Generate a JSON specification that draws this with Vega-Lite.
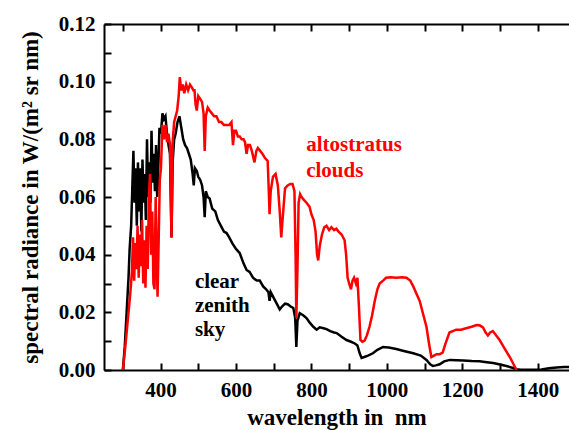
{
  "$schema": "https://vega.github.io/schema/vega-lite/v6.json",
  "width": 465,
  "height": 346,
  "autosize": "none",
  "padding": {"left": 104, "top": 24, "right": 0, "bottom": 60},
  "background": "white",
  "config": {
    "view": {"stroke": null},
    "axis": {
      "grid": false,
      "domainColor": "black",
      "domainWidth": 2,
      "tickColor": "black",
      "tickWidth": 2,
      "labelFont": "Liberation Serif",
      "labelFontWeight": "bold",
      "labelFontSize": 21,
      "labelColor": "black",
      "titleFont": "Liberation Serif",
      "titleFontWeight": "bold",
      "titleFontSize": 23,
      "titleColor": "black"
    }
  },
  "datasets": {
    "spectra": [
      {"s":"clear","w":300,"v":0},{"s":"clear","w":305,"v":0.008},{"s":"clear","w":310,"v":0.02},{"s":"clear","w":315,"v":0.032},{"s":"clear","w":318,"v":0.042},{"s":"clear","w":322,"v":0.05},{"s":"clear","w":325,"v":0.063},{"s":"clear","w":328,"v":0.076},{"s":"clear","w":331,"v":0.058},{"s":"clear","w":334,"v":0.07},{"s":"clear","w":337,"v":0.05},{"s":"clear","w":340,"v":0.072},{"s":"clear","w":343,"v":0.055},{"s":"clear","w":346,"v":0.07},{"s":"clear","w":349,"v":0.048},{"s":"clear","w":352,"v":0.073},{"s":"clear","w":355,"v":0.058},{"s":"clear","w":358,"v":0.068},{"s":"clear","w":361,"v":0.052},{"s":"clear","w":364,"v":0.08},{"s":"clear","w":367,"v":0.06},{"s":"clear","w":370,"v":0.072},{"s":"clear","w":373,"v":0.058},{"s":"clear","w":376,"v":0.083},{"s":"clear","w":379,"v":0.065},{"s":"clear","w":382,"v":0.075},{"s":"clear","w":385,"v":0.062},{"s":"clear","w":388,"v":0.078},{"s":"clear","w":391,"v":0.06},{"s":"clear","w":394,"v":0.07},{"s":"clear","w":397,"v":0.084},{"s":"clear","w":401,"v":0.082},{"s":"clear","w":405,"v":0.089},{"s":"clear","w":409,"v":0.087},{"s":"clear","w":413,"v":0.088},{"s":"clear","w":417,"v":0.082},{"s":"clear","w":421,"v":0.078},{"s":"clear","w":425,"v":0.075},{"s":"clear","w":429,"v":0.046},{"s":"clear","w":432,"v":0.072},{"s":"clear","w":436,"v":0.08},{"s":"clear","w":440,"v":0.082},{"s":"clear","w":445,"v":0.086},{"s":"clear","w":450,"v":0.088},{"s":"clear","w":455,"v":0.084},{"s":"clear","w":460,"v":0.08},{"s":"clear","w":465,"v":0.078},{"s":"clear","w":470,"v":0.077},{"s":"clear","w":475,"v":0.075},{"s":"clear","w":480,"v":0.073},{"s":"clear","w":485,"v":0.068},{"s":"clear","w":488,"v":0.064},{"s":"clear","w":491,"v":0.07},{"s":"clear","w":496,"v":0.069},{"s":"clear","w":500,"v":0.067},{"s":"clear","w":505,"v":0.066},{"s":"clear","w":510,"v":0.064},{"s":"clear","w":514,"v":0.06},{"s":"clear","w":517,"v":0.053},{"s":"clear","w":520,"v":0.062},{"s":"clear","w":525,"v":0.06},{"s":"clear","w":530,"v":0.0595},{"s":"clear","w":537,"v":0.056},{"s":"clear","w":545,"v":0.055},{"s":"clear","w":552,"v":0.052},{"s":"clear","w":560,"v":0.05},{"s":"clear","w":568,"v":0.048},{"s":"clear","w":575,"v":0.0475},{"s":"clear","w":582,"v":0.046},{"s":"clear","w":590,"v":0.044},{"s":"clear","w":600,"v":0.042},{"s":"clear","w":610,"v":0.0405},{"s":"clear","w":620,"v":0.037},{"s":"clear","w":628,"v":0.0347},{"s":"clear","w":636,"v":0.034},{"s":"clear","w":645,"v":0.032},{"s":"clear","w":655,"v":0.031},{"s":"clear","w":663,"v":0.031},{"s":"clear","w":672,"v":0.029},{"s":"clear","w":680,"v":0.028},{"s":"clear","w":686,"v":0.027},{"s":"clear","w":689,"v":0.024},{"s":"clear","w":692,"v":0.027},{"s":"clear","w":700,"v":0.025},{"s":"clear","w":708,"v":0.023},{"s":"clear","w":716,"v":0.021},{"s":"clear","w":722,"v":0.022},{"s":"clear","w":730,"v":0.023},{"s":"clear","w":737,"v":0.0228},{"s":"clear","w":745,"v":0.022},{"s":"clear","w":752,"v":0.0215},{"s":"clear","w":757,"v":0.018},{"s":"clear","w":760,"v":0.008},{"s":"clear","w":763,"v":0.017},{"s":"clear","w":769,"v":0.0197},{"s":"clear","w":778,"v":0.019},{"s":"clear","w":787,"v":0.018},{"s":"clear","w":795,"v":0.0165},{"s":"clear","w":805,"v":0.015},{"s":"clear","w":814,"v":0.014},{"s":"clear","w":822,"v":0.0148},{"s":"clear","w":832,"v":0.0145},{"s":"clear","w":840,"v":0.0142},{"s":"clear","w":850,"v":0.0135},{"s":"clear","w":860,"v":0.013},{"s":"clear","w":867,"v":0.0128},{"s":"clear","w":880,"v":0.0115},{"s":"clear","w":893,"v":0.0104},{"s":"clear","w":905,"v":0.0098},{"s":"clear","w":915,"v":0.0092},{"s":"clear","w":922,"v":0.0085},{"s":"clear","w":928,"v":0.0058},{"s":"clear","w":933,"v":0.0042},{"s":"clear","w":940,"v":0.0045},{"s":"clear","w":950,"v":0.005},{"s":"clear","w":963,"v":0.0058},{"s":"clear","w":975,"v":0.007},{"s":"clear","w":990,"v":0.008},{"s":"clear","w":1005,"v":0.0078},{"s":"clear","w":1025,"v":0.0073},{"s":"clear","w":1045,"v":0.0066},{"s":"clear","w":1070,"v":0.0058},{"s":"clear","w":1090,"v":0.005},{"s":"clear","w":1105,"v":0.0035},{"s":"clear","w":1115,"v":0.002},{"s":"clear","w":1122,"v":0.0014},{"s":"clear","w":1130,"v":0.0016},{"s":"clear","w":1140,"v":0.002},{"s":"clear","w":1152,"v":0.003},{"s":"clear","w":1167,"v":0.0035},{"s":"clear","w":1185,"v":0.0034},{"s":"clear","w":1202,"v":0.0033},{"s":"clear","w":1225,"v":0.0031},{"s":"clear","w":1246,"v":0.003},{"s":"clear","w":1265,"v":0.0027},{"s":"clear","w":1282,"v":0.0024},{"s":"clear","w":1300,"v":0.0019},{"s":"clear","w":1317,"v":0.0014},{"s":"clear","w":1335,"v":0.0007},{"s":"clear","w":1344,"v":0.0003},{"s":"clear","w":1355,"v":0.0001},{"s":"clear","w":1380,"v":0.0001},{"s":"clear","w":1410,"v":0.0002},{"s":"clear","w":1430,"v":0.0006},{"s":"clear","w":1450,"v":0.0009},{"s":"clear","w":1470,"v":0.001},{"s":"clear","w":1483,"v":0.001},
      {"s":"alto","w":300,"v":0},{"s":"alto","w":305,"v":0.006},{"s":"alto","w":310,"v":0.013},{"s":"alto","w":315,"v":0.02},{"s":"alto","w":320,"v":0.027},{"s":"alto","w":324,"v":0.034},{"s":"alto","w":327,"v":0.046},{"s":"alto","w":330,"v":0.031},{"s":"alto","w":333,"v":0.044},{"s":"alto","w":336,"v":0.035},{"s":"alto","w":339,"v":0.05},{"s":"alto","w":342,"v":0.032},{"s":"alto","w":345,"v":0.047},{"s":"alto","w":348,"v":0.036},{"s":"alto","w":351,"v":0.052},{"s":"alto","w":354,"v":0.03},{"s":"alto","w":357,"v":0.045},{"s":"alto","w":360,"v":0.0285},{"s":"alto","w":363,"v":0.05},{"s":"alto","w":366,"v":0.035},{"s":"alto","w":369,"v":0.06},{"s":"alto","w":372,"v":0.068},{"s":"alto","w":375,"v":0.04},{"s":"alto","w":378,"v":0.055},{"s":"alto","w":381,"v":0.03},{"s":"alto","w":384,"v":0.028},{"s":"alto","w":387,"v":0.06},{"s":"alto","w":390,"v":0.038},{"s":"alto","w":392,"v":0.0254},{"s":"alto","w":395,"v":0.045},{"s":"alto","w":398,"v":0.066},{"s":"alto","w":401,"v":0.07},{"s":"alto","w":405,"v":0.085},{"s":"alto","w":409,"v":0.08},{"s":"alto","w":413,"v":0.085},{"s":"alto","w":417,"v":0.079},{"s":"alto","w":421,"v":0.082},{"s":"alto","w":425,"v":0.078},{"s":"alto","w":429,"v":0.046},{"s":"alto","w":432,"v":0.079},{"s":"alto","w":436,"v":0.086},{"s":"alto","w":440,"v":0.088},{"s":"alto","w":444,"v":0.09},{"s":"alto","w":448,"v":0.095},{"s":"alto","w":451,"v":0.1016},{"s":"alto","w":455,"v":0.097},{"s":"alto","w":459,"v":0.099},{"s":"alto","w":463,"v":0.096},{"s":"alto","w":468,"v":0.099},{"s":"alto","w":473,"v":0.097},{"s":"alto","w":478,"v":0.099},{"s":"alto","w":483,"v":0.098},{"s":"alto","w":487,"v":0.097},{"s":"alto","w":490,"v":0.097},{"s":"alto","w":493,"v":0.092},{"s":"alto","w":496,"v":0.09},{"s":"alto","w":500,"v":0.095},{"s":"alto","w":505,"v":0.094},{"s":"alto","w":510,"v":0.093},{"s":"alto","w":514,"v":0.089},{"s":"alto","w":517,"v":0.076},{"s":"alto","w":520,"v":0.088},{"s":"alto","w":525,"v":0.091},{"s":"alto","w":530,"v":0.09},{"s":"alto","w":536,"v":0.089},{"s":"alto","w":542,"v":0.088},{"s":"alto","w":548,"v":0.088},{"s":"alto","w":555,"v":0.086},{"s":"alto","w":561,"v":0.086},{"s":"alto","w":568,"v":0.085},{"s":"alto","w":575,"v":0.085},{"s":"alto","w":582,"v":0.085},{"s":"alto","w":588,"v":0.086},{"s":"alto","w":592,"v":0.078},{"s":"alto","w":596,"v":0.083},{"s":"alto","w":600,"v":0.083},{"s":"alto","w":605,"v":0.081},{"s":"alto","w":610,"v":0.081},{"s":"alto","w":615,"v":0.08},{"s":"alto","w":620,"v":0.08},{"s":"alto","w":624,"v":0.079},{"s":"alto","w":628,"v":0.075},{"s":"alto","w":632,"v":0.078},{"s":"alto","w":637,"v":0.078},{"s":"alto","w":642,"v":0.076},{"s":"alto","w":649,"v":0.072},{"s":"alto","w":654,"v":0.076},{"s":"alto","w":658,"v":0.077},{"s":"alto","w":664,"v":0.076},{"s":"alto","w":670,"v":0.075},{"s":"alto","w":677,"v":0.0735},{"s":"alto","w":684,"v":0.0725},{"s":"alto","w":687,"v":0.062},{"s":"alto","w":689,"v":0.054},{"s":"alto","w":692,"v":0.062},{"s":"alto","w":698,"v":0.067},{"s":"alto","w":705,"v":0.068},{"s":"alto","w":711,"v":0.064},{"s":"alto","w":716,"v":0.055},{"s":"alto","w":720,"v":0.046},{"s":"alto","w":724,"v":0.053},{"s":"alto","w":730,"v":0.063},{"s":"alto","w":737,"v":0.064},{"s":"alto","w":744,"v":0.0645},{"s":"alto","w":750,"v":0.0645},{"s":"alto","w":755,"v":0.062},{"s":"alto","w":758,"v":0.04},{"s":"alto","w":760,"v":0.018},{"s":"alto","w":763,"v":0.035},{"s":"alto","w":766,"v":0.058},{"s":"alto","w":770,"v":0.061},{"s":"alto","w":774,"v":0.06},{"s":"alto","w":780,"v":0.059},{"s":"alto","w":787,"v":0.058},{"s":"alto","w":795,"v":0.0566},{"s":"alto","w":800,"v":0.054},{"s":"alto","w":806,"v":0.052},{"s":"alto","w":811,"v":0.048},{"s":"alto","w":815,"v":0.04},{"s":"alto","w":818,"v":0.038},{"s":"alto","w":822,"v":0.043},{"s":"alto","w":828,"v":0.047},{"s":"alto","w":834,"v":0.0495},{"s":"alto","w":840,"v":0.05},{"s":"alto","w":847,"v":0.0485},{"s":"alto","w":853,"v":0.0495},{"s":"alto","w":860,"v":0.0485},{"s":"alto","w":866,"v":0.049},{"s":"alto","w":872,"v":0.048},{"s":"alto","w":880,"v":0.047},{"s":"alto","w":888,"v":0.045},{"s":"alto","w":892,"v":0.04},{"s":"alto","w":896,"v":0.032},{"s":"alto","w":900,"v":0.03},{"s":"alto","w":905,"v":0.028},{"s":"alto","w":909,"v":0.031},{"s":"alto","w":913,"v":0.032},{"s":"alto","w":918,"v":0.03},{"s":"alto","w":922,"v":0.032},{"s":"alto","w":926,"v":0.022},{"s":"alto","w":930,"v":0.0104},{"s":"alto","w":935,"v":0.0098},{"s":"alto","w":941,"v":0.0102},{"s":"alto","w":947,"v":0.012},{"s":"alto","w":954,"v":0.015},{"s":"alto","w":961,"v":0.019},{"s":"alto","w":968,"v":0.024},{"s":"alto","w":975,"v":0.028},{"s":"alto","w":981,"v":0.03},{"s":"alto","w":990,"v":0.031},{"s":"alto","w":998,"v":0.032},{"s":"alto","w":1010,"v":0.0322},{"s":"alto","w":1025,"v":0.032},{"s":"alto","w":1040,"v":0.0322},{"s":"alto","w":1052,"v":0.032},{"s":"alto","w":1062,"v":0.031},{"s":"alto","w":1070,"v":0.029},{"s":"alto","w":1080,"v":0.026},{"s":"alto","w":1087,"v":0.024},{"s":"alto","w":1097,"v":0.019},{"s":"alto","w":1105,"v":0.015},{"s":"alto","w":1112,"v":0.009},{"s":"alto","w":1118,"v":0.0045},{"s":"alto","w":1125,"v":0.005},{"s":"alto","w":1132,"v":0.0055},{"s":"alto","w":1140,"v":0.0055},{"s":"alto","w":1148,"v":0.006},{"s":"alto","w":1155,"v":0.009},{"s":"alto","w":1166,"v":0.013},{"s":"alto","w":1175,"v":0.0135},{"s":"alto","w":1184,"v":0.014},{"s":"alto","w":1197,"v":0.014},{"s":"alto","w":1210,"v":0.0145},{"s":"alto","w":1225,"v":0.015},{"s":"alto","w":1238,"v":0.0156},{"s":"alto","w":1246,"v":0.0155},{"s":"alto","w":1255,"v":0.0148},{"s":"alto","w":1262,"v":0.013},{"s":"alto","w":1268,"v":0.012},{"s":"alto","w":1274,"v":0.013},{"s":"alto","w":1281,"v":0.0135},{"s":"alto","w":1290,"v":0.012},{"s":"alto","w":1299,"v":0.0104},{"s":"alto","w":1312,"v":0.0075},{"s":"alto","w":1326,"v":0.0045},{"s":"alto","w":1336,"v":0.002},{"s":"alto","w":1344,"v":0}
    ],
    "labels": [
      {"s":"alto","w":786,"v":0.0760,"t":"altostratus"},
      {"s":"alto","w":786,"v":0.0669,"t":"clouds"},
      {"s":"clear","w":491,"v":0.0284,"t":"clear"},
      {"s":"clear","w":491,"v":0.0201,"t":"zenith"},
      {"s":"clear","w":491,"v":0.0118,"t":"sky"}
    ]
  },
  "layer": [
    {
      "data": {"name": "spectra"},
      "transform": [{"filter": "datum.s == 'clear'"}],
      "mark": {"type": "line", "color": "#000000", "strokeWidth": 2.5, "clip": true},
      "encoding": {
        "x": {"field": "w", "type": "quantitative", "scale": {"domain": [250, 1483], "nice": false, "zero": false},
          "axis": {"orient": "bottom", "values": [300,400,500,600,700,800,900,1000,1100,1200,1300,1400], "format": "d",
            "tickSize": -7, "tickColor": "#000000", "labelExpr": "datum.value % 200 == 0 ? datum.label : ''",
            "labelPadding": 16, "title": "wavelength in\u00a0 nm", "titlePadding": 6}},
        "y": {"field": "v", "type": "quantitative", "scale": {"domain": [0, 0.12], "nice": false},
          "axis": {"orient": "left", "values": [0,0.01,0.02,0.03,0.04,0.05,0.06,0.07,0.08,0.09,0.1,0.11,0.12],
            "tickSize": -7, "tickColor": "#000000", "labelExpr": "round(datum.value*100) % 2 == 0 ? format(datum.value, '.2f') : ''",
            "labelPadding": 16, "title": "spectral radiance in W/(m² sr nm)", "titlePadding": 16}}
      }
    },
    {
      "data": {"name": "spectra"},
      "transform": [{"filter": "datum.s == 'alto'"}],
      "mark": {"type": "line", "color": "#ff0000", "strokeWidth": 2.5, "clip": true},
      "encoding": {
        "x": {"field": "w", "type": "quantitative", "scale": {"domain": [250, 1483], "nice": false, "zero": false},
          "axis": {"orient": "top", "values": [300,400,500,600,700,800,900,1000,1100,1200,1300,1400], "tickSize": -7, "tickColor": "#000000", "labels": false, "title": null}},
        "y": {"field": "v", "type": "quantitative", "scale": {"domain": [0, 0.12], "nice": false}, "axis": null}
      }
    },
    {
      "data": {"name": "labels"},
      "mark": {"type": "text", "align": "left", "baseline": "alphabetic", "font": "Liberation Serif", "fontWeight": "bold", "fontSize": 21},
      "encoding": {
        "x": {"field": "w", "type": "quantitative", "scale": {"domain": [250, 1483], "nice": false, "zero": false}, "axis": null},
        "y": {"field": "v", "type": "quantitative", "scale": {"domain": [0, 0.12], "nice": false}, "axis": null},
        "text": {"field": "t"},
        "color": {"field": "s", "type": "nominal", "scale": {"domain": ["clear", "alto"], "range": ["#000000", "#ff0000"]}, "legend": null}
      }
    }
  ],
  "resolve": {"axis": {"x": "independent", "y": "independent"}}
}
